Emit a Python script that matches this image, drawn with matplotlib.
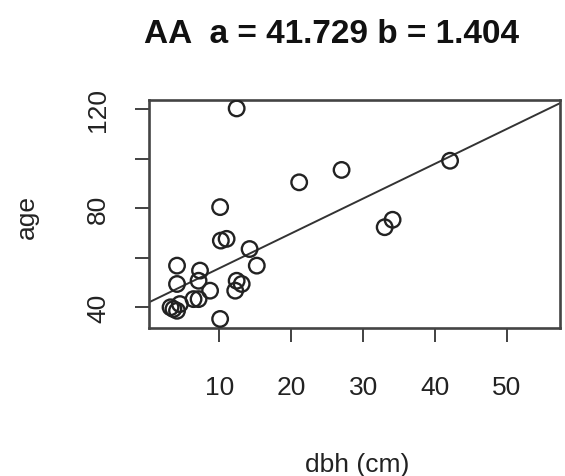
import matplotlib
matplotlib.use("Agg")
import matplotlib.pyplot as plt
import numpy as np

plt.rcParams['font.family'] = ['Liberation Sans', 'DejaVu Sans']

dbh = [12.4, 10.1, 10.2, 11.0, 14.2, 15.2, 4.1, 7.3, 4.1, 7.1, 8.7, 7.1, 6.4,
       3.6, 3.2, 4.1, 4.5, 10.1, 12.4, 13.1, 12.2, 21.1, 27.0, 42.1, 33.0, 34.1]
age = [120.2, 80.4, 66.9, 67.6, 63.5, 56.8, 56.8, 54.8, 49.4, 50.7, 46.7, 43.3, 43.3,
       39.3, 40.0, 38.6, 41.3, 35.3, 50.7, 49.4, 46.7, 90.4, 95.4, 99.1, 72.3, 75.3]
a_coef = 41.729
b_coef = 1.404
xticks = [10, 20, 30, 40, 50]
yticks = [40, 60, 80, 100, 120]
ytick_labels = ["40", "", "80", "", "120"]

fig = plt.figure(figsize=(5.65, 4.77), dpi=100)
ax = fig.add_axes([149/565, 1-329/477, (560-149)/565, (329-101)/477])
ax.set_xlim(0.2, 57.4)
ax.set_ylim(31.65, 123.6)

ax.scatter(dbh, age, s=125, facecolors='none', edgecolors='#222222', linewidths=1.7, zorder=3)
xs = np.array(ax.get_xlim())
ax.plot(xs, a_coef + b_coef*xs, color='#333333', lw=1.4, zorder=2)

for s in ax.spines.values():
    s.set_linewidth(1.9)
    s.set_color('#444444')

ax.set_xticks(xticks)
ax.set_xticklabels([str(t) for t in xticks], fontsize=19, color='#222222')
ax.set_yticks(yticks)
ax.set_yticklabels(ytick_labels, fontsize=19, rotation=90, va='center', color='#222222')
ax.tick_params(axis='both', direction='out', length=10, width=1.3, color='#333333')
ax.tick_params(axis='x', pad=24)
ax.tick_params(axis='y', pad=18)

fig.text(357/565, 1-465/477, "dbh (cm)", ha='center', va='center', fontsize=19, color='#222222')
fig.text(27/565, 1-217/477, "age", ha='center', va='center', rotation=90, fontsize=19, color='#222222')
fig.text(331/565, 1-43/477, "AA  a = 41.729 b = 1.404", ha='center', va='baseline',
         fontsize=24, fontweight='bold', color='#111111')

fig.savefig("out.png", dpi=100)
